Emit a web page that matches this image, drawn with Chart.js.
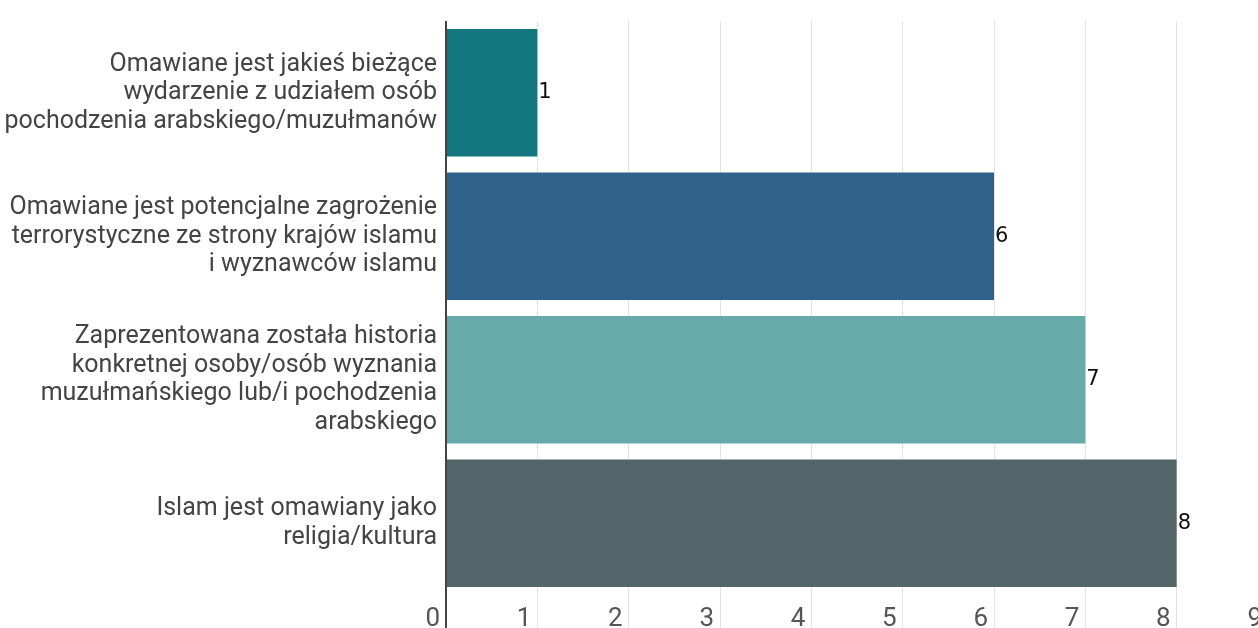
<!DOCTYPE html>
<html>
<head>
<meta charset="utf-8">
<script src="https://cdn.jsdelivr.net/npm/chart.js@4"></script>
<style>
  html, body { margin: 0; padding: 0; background: #fff; overflow: hidden; width: 1258px; height: 628px; }
  canvas { display: block; }
</style>
</head>
<body>
<canvas id="myChart" width="1290" height="650"></canvas>
<script>
// categories (multi-line labels)
const categories = [
    ['Omawiane jest jakieś bieżące', 'wydarzenie z udziałem osób', 'pochodzenia arabskiego/muzułmanów'],
    ['Omawiane jest potencjalne zagrożenie', 'terrorystyczne ze strony krajów islamu', 'i wyznawców islamu'],
    ['Zaprezentowana została historia', 'konkretnej osoby/osób wyznania', 'muzułmańskiego lub/i pochodzenia', 'arabskiego'],
    ['Islam jest omawiany jako', 'religia/kultura'],
];
const counts = [1, 6, 7, 8];
const barColors = ['#13767f', '#30618a', '#67aaa9', '#536568'];
const xTicks = [0, 1, 2, 3, 4, 5, 6, 7, 8, 9];

// draw the value next to the end of each bar
const valueLabels = {
    id: 'valueLabels',
    afterDatasetsDraw(chart) {
        const ctx = chart.ctx;
        const meta = chart.getDatasetMeta(0);
        ctx.save();
        ctx.font = '21px "DejaVu Sans"';
        ctx.fillStyle = '#111';
        ctx.textAlign = 'left';
        ctx.textBaseline = 'middle';
        meta.data.forEach((bar, i) => {
            ctx.fillText(String(counts[i]), bar.x + 1, bar.y);
        });
        ctx.restore();
    }
};

const ctx = document.getElementById('myChart').getContext('2d');

new Chart(ctx, {
    type: 'bar',
    data: {
        labels: categories,
        datasets: [{
            data: counts,
            backgroundColor: barColors,
            borderWidth: 0,
            categoryPercentage: 0.89,
            barPercentage: 1,
        }]
    },
    options: {
        indexAxis: 'y',
        responsive: false,
        animation: false,
        devicePixelRatio: 1,
        layout: { padding: { top: 21, right: 22, left: 0, bottom: 0 } },
        plugins: {
            legend: { display: false },
            tooltip: { enabled: false },
        },
        scales: {
            x: {
                min: xTicks[0],
                max: xTicks[xTicks.length - 1],
                afterBuildTicks: (scale) => { scale.ticks = xTicks.map(v => ({ value: v })); },
                afterFit: (scale) => {
                    scale.height = 55;
                    scale.paddingLeft = 0;
                    scale.paddingRight = 0;
                },
                border: { display: false },
                grid: {
                    color: (c) => c.index === 0 ? '#444' : '#e3e3e3',
                    lineWidth: (c) => c.index === 0 ? 2 : 1,
                    tickLength: 33,
                    tickColor: (c) => c.index === 0 ? '#444' : '#e3e3e3',
                },
                ticks: {
                    align: 'end',
                    labelOffset: -6,
                    padding: -24,
                    color: '#555',
                    font: { family: 'Roboto', size: 26 },
                },
            },
            y: {
                afterFit: (scale) => {
                    scale.width = 446;
                    scale.paddingTop = 0;
                    scale.paddingBottom = 0;
                },
                border: { display: false },
                grid: { display: false, drawTicks: false },
                ticks: {
                    padding: 9,
                    color: '#444',
                    font: { family: 'Roboto', size: 25, lineHeight: 1.14 },
                },
            },
        },
    },
    plugins: [valueLabels],
});
</script>
</body>
</html>
